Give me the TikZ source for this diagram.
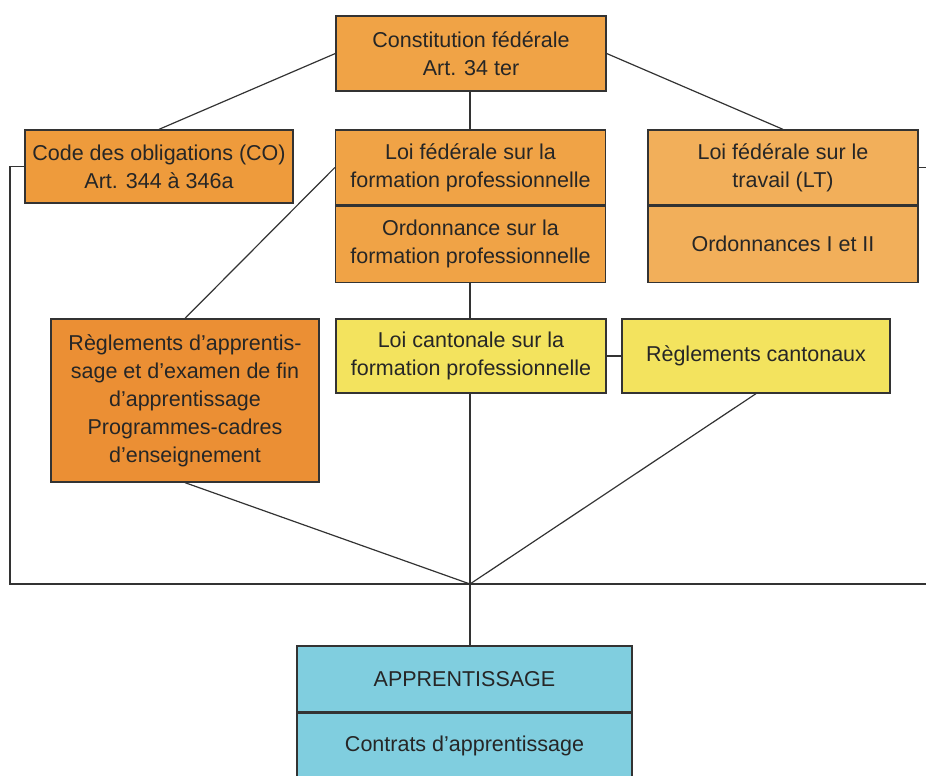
\documentclass[tikz,border=0pt]{standalone}
\usepackage{fontspec}
\setmainfont{Liberation Sans}
\usepackage{xcolor}
\usepackage{tikz}
\usetikzlibrary{positioning}
\definecolor{orfed}{HTML}{F0A346}
\definecolor{orco}{HTML}{EE9B3C}
\definecolor{orlt}{HTML}{F2AF5A}
\definecolor{orreg}{HTML}{EB8F34}
\definecolor{jaune}{HTML}{F3E35E}
\definecolor{bleu}{HTML}{80CEDF}
\definecolor{trait}{HTML}{333333}

\begin{document}
\begin{tikzpicture}[x=1pt,y=-1pt,
  boite/.style={rectangle,draw=trait,line width=1.3pt,inner sep=0pt,align=center,
    font=\fontsize{21.5}{28}\selectfont,text=black!85},
  lien/.style={draw=trait,line width=1.2pt}]
\useasboundingbox (0,0) rectangle (926,776);
\clip (0,0) rectangle (926,776);
% niveau federal
\node[boite,fill=orfed,minimum width=270pt,minimum height=75pt] (cf) at (471,53.5)
  {Constitution fédérale\\Art. 34 ter};
\node[boite,fill=orco,minimum width=268pt,minimum height=73pt] (co) at (159,166.5)
  {Code des obligations (CO)\\Art. 344 à 346a};
\node[boite,fill=orfed,minimum width=270pt,minimum height=75pt] (lffp) at (470.5,167.5)
  {Loi fédérale sur la\\formation professionnelle};
\node[boite,fill=orfed,minimum width=270pt,minimum height=76pt,below=0pt of lffp] (ofp)
  {Ordonnance sur la\\formation professionnelle};
\node[boite,fill=orlt,minimum width=270pt,minimum height=75pt] (lt) at (783,167.5)
  {Loi fédérale sur le\\travail (LT)};
\node[boite,fill=orlt,minimum width=270pt,minimum height=76pt,below=0pt of lt] (ord)
  {Ordonnances I et II};
\draw[trait,line width=2.2pt] (lffp.south west) -- (lffp.south east);
\draw[trait,line width=2.2pt] (lt.south west) -- (lt.south east);
% niveau reglements / cantonal
\node[boite,fill=orreg,minimum width=268pt,minimum height=163pt] (reg) at (185,400.5)
  {Règlements d’apprentis-\\sage et d’examen de fin\\d’apprentissage\\Programmes-cadres\\d’enseignement};
\node[boite,fill=jaune,minimum width=270pt,minimum height=74pt] (lcfp) at (471,356)
  {Loi cantonale sur la\\formation professionnelle};
\node[boite,fill=jaune,minimum width=268pt,minimum height=74pt] (rc) at (756,356)
  {Règlements cantonaux};
% apprentissage
\node[boite,fill=bleu,minimum width=335pt,minimum height=66pt] (app) at (464.5,679)
  {APPRENTISSAGE};
\node[boite,fill=bleu,minimum width=335pt,minimum height=66pt,below=0pt of app] (ca)
  {Contrats d’apprentissage};
% points de jonction
\coordinate (jonc) at (470,584);
\coordinate (gauche) at (10,584);
\coordinate (droite) at (926,584);
% liaisons
\draw[lien] (cf.west) -- (co.north);
\draw[lien] (cf.east) -- (lt.north);
\draw[lien] (cf.south -| jonc) -- (lffp.north -| jonc);
\draw[lien] (lffp.west) -- (reg.north);
\draw[lien] (ofp.south -| jonc) -- (lcfp.north -| jonc);
\draw[lien] (lcfp.east) -- (rc.west);
\draw[lien] (lcfp.south -| jonc) -- (jonc);
\draw[lien] (reg.south) -- (jonc);
\draw[lien] (rc.south) -- (jonc);
\draw[lien] (co.west) -| (gauche) -- (droite);
\draw[lien] (lt.east) -- (lt.east -| droite);
\draw[lien] (jonc) -- (app.north -| jonc);
\end{tikzpicture}
\end{document}
